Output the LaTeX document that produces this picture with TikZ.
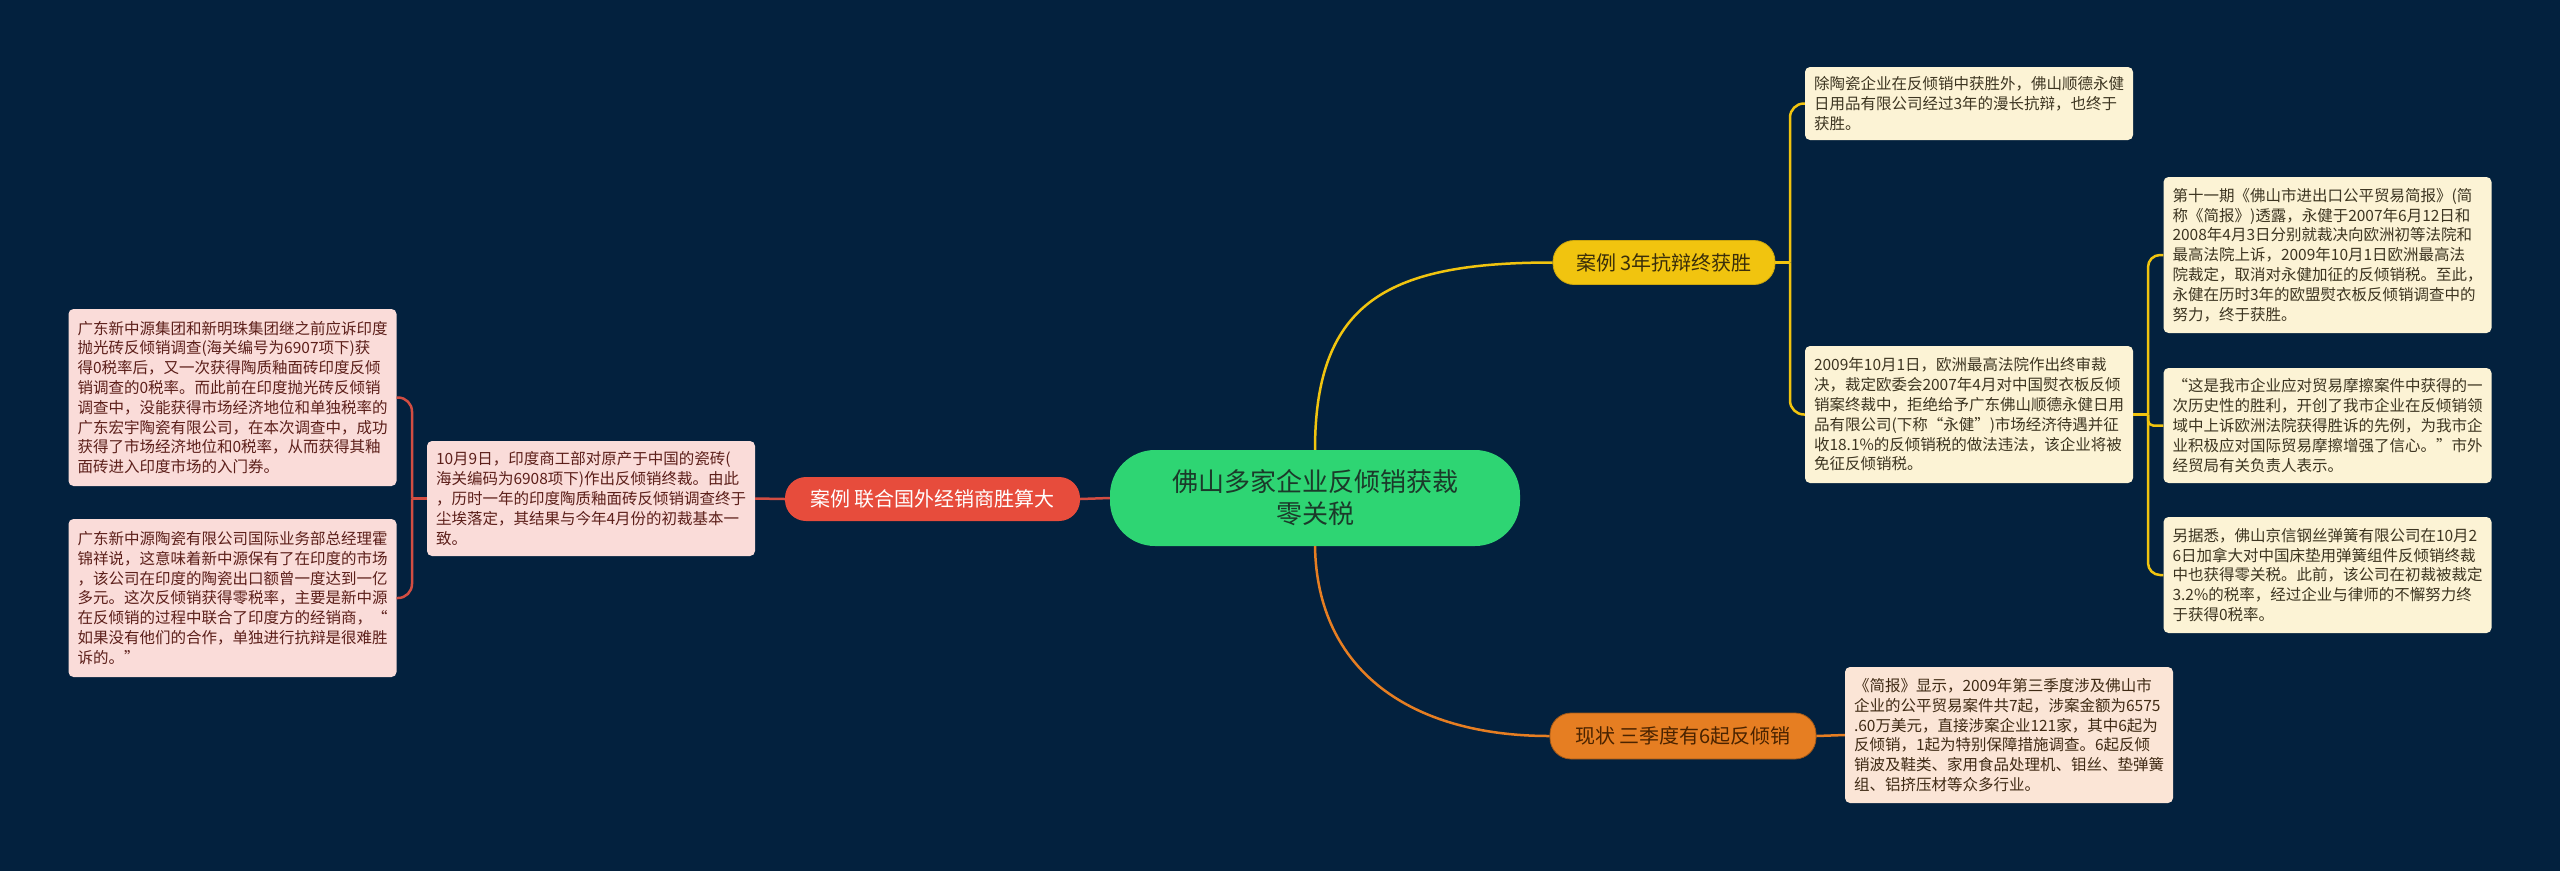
\documentclass[tikz,border=0pt]{standalone}
\usepackage{fontspec}
\setmainfont{Noto Sans CJK SC}
\definecolor{bg}{HTML}{03213E}
\definecolor{cgreen}{HTML}{2ED573}
\definecolor{ctext}{HTML}{1B3A2A}
\definecolor{yfillN}{HTML}{F1C40F}
\definecolor{ytextN}{HTML}{3A2E0A}
\definecolor{yline}{HTML}{F1C40F}
\definecolor{yfill}{HTML}{FCF3D5}
\definecolor{ytext}{HTML}{3D3521}
\definecolor{rfillN}{HTML}{E74C3C}
\definecolor{rline}{HTML}{D24D42}
\definecolor{rfill}{HTML}{FADCD9}
\definecolor{rtext}{HTML}{5C1F1A}
\definecolor{ofillN}{HTML}{E67E22}
\definecolor{otextN}{HTML}{4A2300}
\definecolor{oline}{HTML}{E67E22}
\definecolor{ofill}{HTML}{FBE5D6}
\definecolor{otext}{HTML}{3F2A14}
\begin{document}
\begin{tikzpicture}[x=1pt,y=-1pt,
  leafbase/.style={draw=none, rounded corners=5pt, align=left, text width=310pt,
    inner xsep=9pt, inner ysep=0pt, font=\fontsize{15.5}{19.8}\selectfont},
  leafY/.style={leafbase, fill=yfill, text=ytext},
  leafR/.style={leafbase, fill=rfill, text=rtext},
  leafO/.style={leafbase, fill=ofill, text=otext},
  cnode/.style={fill=cgreen, text=ctext, rounded corners=45pt, minimum width=410pt,
    minimum height=96pt, align=center, inner sep=0pt, font=\fontsize{26}{32}\selectfont},
  pill/.style={rounded corners=21pt, inner sep=0pt, font=\fontsize{20}{24}\selectfont, minimum height=44pt},
  ynode/.style={pill, fill=yfillN, draw=yfillN!85!black, line width=0.8pt, text=ytextN, minimum width=222pt},
  rnode/.style={pill, fill=rfillN, text=white, minimum width=295pt},
  onode/.style={pill, fill=ofillN, draw=ofillN!70!black, line width=0.8pt, text=otextN, minimum width=266pt, minimum height=46pt},
  ylink/.style={draw=yline, line width=2.5pt},
  rlink/.style={draw=rline, line width=2.5pt},
  olink/.style={draw=oline, line width=2.5pt}
]
\fill[bg] (0,0) rectangle (2560,871);
\useasboundingbox (0,0) rectangle (2560,871);

\node[cnode] (c) at (1315,498) {佛山多家企业反倾销获裁\\零关税};
\node[ynode] (y) at (1664,262.5) {案例 3年抗辩终获胜};
\node[rnode] (r) at (932.5,499) {案例 联合国外经销商胜算大};
\node[onode] (o) at (1683,736) {现状 三季度有6起反倾销};

\node[leafY, minimum height=73pt] (a) at (1969,103.5) {除陶瓷企业在反倾销中获胜外，佛山顺德永健\\日用品有限公司经过3年的漫长抗辩，也终于\\获胜。};
\node[leafY, minimum height=137pt] (b) at (1969,414.5) {2009年10月1日，欧洲最高法院作出终审裁\\决，裁定欧委会2007年4月对中国熨衣板反倾\\销案终裁中，拒绝给予广东佛山顺德永健日用\\品有限公司(下称“永健”)市场经济待遇并征\\收18.1\%的反倾销税的做法违法，该企业将被\\免征反倾销税。};
\node[leafY, minimum height=156pt] (cc) at (2327.5,255) {第十一期《佛山市进出口公平贸易简报》(简\\称《简报》)透露，永健于2007年6月12日和\\2008年4月3日分别就裁决向欧洲初等法院和\\最高法院上诉，2009年10月1日欧洲最高法\\院裁定，取消对永健加征的反倾销税。至此，\\永健在历时3年的欧盟熨衣板反倾销调查中的\\努力，终于获胜。};
\node[leafY, minimum height=115pt] (d) at (2327.5,425.5) {“这是我市企业应对贸易摩擦案件中获得的一\\次历史性的胜利，开创了我市企业在反倾销领\\域中上诉欧洲法院获得胜诉的先例，为我市企\\业积极应对国际贸易摩擦增强了信心。”市外\\经贸局有关负责人表示。};
\node[leafY, minimum height=116pt] (e) at (2327.5,575) {另据悉，佛山京信钢丝弹簧有限公司在10月2\\6日加拿大对中国床垫用弹簧组件反倾销终裁\\中也获得零关税。此前，该公司在初裁被裁定\\3.2\%的税率，经过企业与律师的不懈努力终\\于获得0税率。};
\node[leafO, minimum height=136pt] (f) at (2009,735) {《简报》显示，2009年第三季度涉及佛山市\\企业的公平贸易案件共7起，涉案金额为6575\\.60万美元，直接涉案企业121家，其中6起为\\反倾销，1起为特别保障措施调查。6起反倾\\销波及鞋类、家用食品处理机、钼丝、垫弹簧\\组、铝挤压材等众多行业。};
\node[leafR, minimum height=177pt] (g) at (232.5,397.5) {广东新中源集团和新明珠集团继之前应诉印度\\抛光砖反倾销调查(海关编号为6907项下)获\\得0税率后，又一次获得陶质釉面砖印度反倾\\销调查的0税率。而此前在印度抛光砖反倾销\\调查中，没能获得市场经济地位和单独税率的\\广东宏宇陶瓷有限公司，在本次调查中，成功\\获得了市场经济地位和0税率，从而获得其釉\\面砖进入印度市场的入门券。};
\node[leafR, minimum height=158pt] (h) at (232.5,598) {广东新中源陶瓷有限公司国际业务部总经理霍\\锦祥说，这意味着新中源保有了在印度的市场\\，该公司在印度的陶瓷出口额曾一度达到一亿\\多元。这次反倾销获得零税率，主要是新中源\\在反倾销的过程中联合了印度方的经销商，“\\如果没有他们的合作，单独进行抗辩是很难胜\\诉的。”};
\node[leafR, minimum height=115pt] (i) at (591,498.5) {10月9日，印度商工部对原产于中国的瓷砖(\\海关编码为6908项下)作出反倾销终裁。由此\\，历时一年的印度陶质釉面砖反倾销调查终于\\尘埃落定，其结果与今年4月份的初裁基本一\\致。};

\draw[ylink] (c.north) .. controls (1315,300) and (1390,262.5) .. (y.west);
\draw[olink] (c.south) .. controls (1317,670) and (1410,736) .. (o.west);
\draw[rlink] (c.west) -- (r.east);
\draw[rlink] (r.west) -- (i.east);
\draw[olink] (o.east) -- (f.west);

\coordinate (yj) at (1790,262.5);
\draw[ylink] (y.east) -- (yj);
\draw[ylink, rounded corners=14pt] (yj) |- (a.west);
\draw[ylink, rounded corners=14pt] (yj) |- (b.west);

\coordinate (bj) at (2148,414.5);
\draw[ylink] (b.east) -- (bj);
\draw[ylink, rounded corners=12pt] (bj) |- (cc.west);
\draw[ylink, rounded corners=5pt] (bj) |- (d.west);
\draw[ylink, rounded corners=12pt] (bj) |- (e.west);

\coordinate (ij) at (412,498.5);
\draw[rlink] (i.west) -- (ij);
\draw[rlink, rounded corners=14pt] (ij) |- (g.east);
\draw[rlink, rounded corners=14pt] (ij) |- (h.east);
\end{tikzpicture}
\end{document}
